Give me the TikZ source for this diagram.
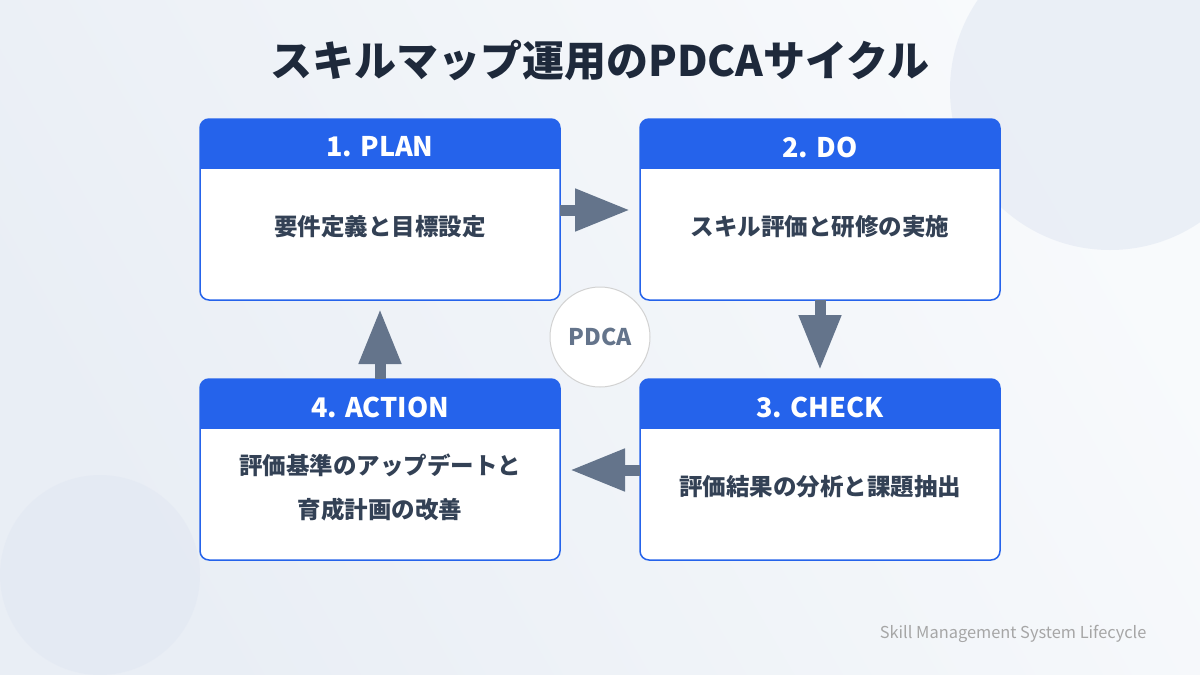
\documentclass[tikz,border=0pt]{standalone}
\usepackage{fontspec}
\setmainfont{Noto Sans CJK JP}
\usetikzlibrary{arrows.meta}
\definecolor{blu}{HTML}{2563EB}
\definecolor{arr}{HTML}{64748B}
\definecolor{ttl}{HTML}{1E293B}
\definecolor{bod}{HTML}{334155}
\definecolor{bgA}{HTML}{F8FAFC}
\definecolor{bgB}{HTML}{E9EEF5}
\definecolor{deco}{HTML}{E2E8F3}
\begin{document}
\begin{tikzpicture}[x=1pt,y=-1pt,
  box/.style={draw=blu,line width=1.5pt,rounded corners=9pt},
  hdr/.style={text=white,font=\bfseries\fontsize{27}{30}\selectfont},
  body/.style={text=bod,font=\bfseries\fontsize{23.5}{44}\selectfont,align=center},
  ar/.style={draw=arr,line width=11pt,-{Triangle[length=55pt,width=40pt]}}]
\useasboundingbox (0,0) rectangle (1200,675);
\begin{scope}
\clip (0,0) rectangle (1200,675);
\shade[left color=bgA, right color=bgB, shading angle=-60] (0,0) rectangle (1200,675);
\fill[deco,opacity=.6] (1110,90) circle (160);
\fill[deco,opacity=.6] (100,575) circle (100);
\end{scope}
\node[text=ttl,font=\bfseries\fontsize{42}{48}\selectfont] (title) at (600,60) {スキルマップ運用のPDCAサイクル};
\foreach \n/\x/\y/\h/\b in {plan/200/119/1. PLAN/要件定義と目標設定, do/640/119/2. DO/スキル評価と研修の実施, act/200/379/4. ACTION/{評価基準のアップデートと\\育成計画の改善}, chk/640/379/3. CHECK/評価結果の分析と課題抽出}{
  \begin{scope}
  \clip[rounded corners=9pt] (\x,\y) rectangle ++(360,181);
  \fill[white] (\x,\y) rectangle ++(360,181);
  \fill[blu] (\x,\y) rectangle ++(360,50);
  \end{scope}
  \draw[box] (\x,\y) rectangle ++(360,181);
  \node[hdr] (\n h) at (\x+180,\y+28) {\h};
  \node[body] (\n b) at (\x+180,\y+108) {\b};
}
\coordinate (a1) at (560,210); \coordinate (a2) at (630,210);
\coordinate (b1) at (820,300); \coordinate (b2) at (820,370);
\coordinate (c1) at (640,470); \coordinate (c2) at (570,470);
\coordinate (d1) at (380,379); \coordinate (d2) at (380,309);
\draw[ar] (a1) -- (a2);
\draw[ar] (b1) -- (b2);
\draw[ar] (c1) -- (c2);
\draw[ar] (d1) -- (d2);
\node[circle,draw=gray!35,line width=1pt,fill=white,minimum size=100pt,text=arr,font=\bfseries\fontsize{23}{26}\selectfont] (pdca) at (600,337) {PDCA};
\node[anchor=east,text=gray!70,font=\fontsize{16.4}{18}\selectfont] (foot) at (1150,634) {Skill Management System Lifecycle};
\end{tikzpicture}
\end{document}
